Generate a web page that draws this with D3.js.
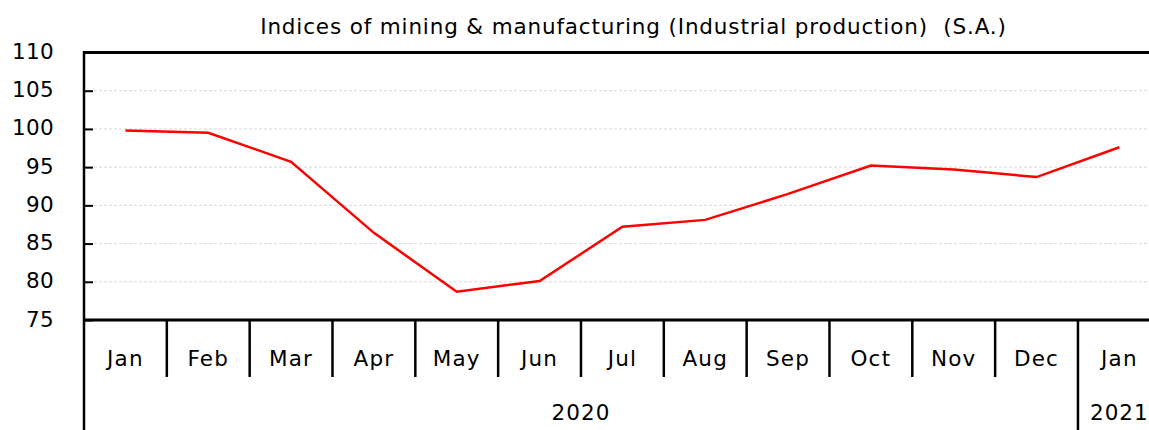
<!DOCTYPE html>
<html>
<head>
<meta charset="utf-8">
<script src="https://cdn.jsdelivr.net/npm/d3@7"></script>
<style>
  html, body { margin: 0; padding: 0; background: #fff; }
  svg { display: block; font-family: "DejaVu Sans", sans-serif; }
</style>
</head>
<body>
<svg id="chart" width="1149" height="430"></svg>
<script>
const title = "Indices of mining & manufacturing (Industrial production)\u00a0\u00a0(S.A.)";
const monthLabels = ["Jan","Feb","Mar","Apr","May","Jun","Jul","Aug","Sep","Oct","Nov","Dec","Jan"];
const monthYears = [2020,2020,2020,2020,2020,2020,2020,2020,2020,2020,2020,2020,2021];
const values = [99.8, 99.5, 95.7, 86.4, 78.7, 80.1, 87.2, 88.1, 91.5, 95.2, 94.7, 93.7, 97.6];
const yTicks = [75, 80, 85, 90, 95, 100, 105, 110];
const yearLabels = ["2020", "2021"];

const svg = d3.select("#chart");
const mLeft = 84, mTop = 52.5, mBottom = 320, bandW = 82.83;
const keys = monthLabels.map((m, i) => monthYears[i] + "-" + i);

const x = d3.scaleBand().domain(keys).range([mLeft, mLeft + bandW * keys.length]).paddingInner(0).paddingOuter(0);
const y = d3.scaleLinear().domain([75, 110]).range([mBottom, mTop]);

// gridlines
svg.append("g").selectAll("line").data(yTicks.filter(t => t > 75 && t < 110)).join("line")
  .attr("x1", mLeft).attr("x2", 1149)
  .attr("y1", d => y(d)).attr("y2", d => y(d))
  .attr("stroke", "#d9d9d9").attr("stroke-width", 1).attr("stroke-dasharray", "3,2");

// y axis
const yAxis = d3.axisLeft(y).tickValues(yTicks).tickSize(0).tickPadding(0);
const gy = svg.append("g").attr("transform", `translate(${mLeft},0)`).call(yAxis);
gy.select(".domain").remove();
gy.selectAll(".tick text")
  .attr("x", -30).attr("dy", null).attr("y", 6)
  .attr("font-size", 21.5).attr("font-family", "DejaVu Sans").attr("fill", "#000")
  .attr("letter-spacing", 0.3)
  .attr("text-anchor", "end");
gy.selectAll(".tick").append("line")
  .attr("x1", 0).attr("x2", 9).attr("y1", 0).attr("y2", 0)
  .attr("stroke", "#000").attr("stroke-width", 2);

// top border
svg.append("line").attr("x1", mLeft).attr("x2", 1149).attr("y1", mTop).attr("y2", mTop)
  .attr("stroke", "#000").attr("stroke-width", 3);
// left axis line
svg.append("line").attr("x1", mLeft).attr("x2", mLeft).attr("y1", mTop - 1.5).attr("y2", 430)
  .attr("stroke", "#000").attr("stroke-width", 2.5);
// bottom axis line
svg.append("line").attr("x1", mLeft).attr("x2", 1149).attr("y1", mBottom).attr("y2", mBottom)
  .attr("stroke", "#000").attr("stroke-width", 3);

// x axis month labels and separators
const xAxis = d3.axisBottom(x).tickSize(0).tickPadding(0).tickFormat((d, i) => monthLabels[i]);
const gx = svg.append("g").attr("transform", `translate(0,${mBottom})`).call(xAxis);
gx.select(".domain").remove();
gx.selectAll(".tick text").attr("y", 46).attr("dy", null)
  .attr("font-size", 21.5).attr("font-family", "DejaVu Sans").attr("fill", "#000")
  .attr("letter-spacing", 1.2);

const seps = keys.slice(1);
svg.append("g").selectAll("line").data(seps).join("line")
  .attr("x1", d => x(d)).attr("x2", d => x(d))
  .attr("y1", mBottom)
  .attr("y2", (d, i) => monthYears[i + 1] !== monthYears[i] ? 430 : 377)
  .attr("stroke", "#000").attr("stroke-width", 2.5);

// year labels
const yearGroups = yearLabels.map(yr => {
  const ks = keys.filter((k, i) => String(monthYears[i]) === yr);
  const x0 = x(ks[0]), x1 = x(ks[ks.length - 1]) + x.bandwidth();
  return { yr, cx: (x0 + x1) / 2 };
});
svg.append("g").selectAll("text").data(yearGroups).join("text")
  .attr("x", d => d.cx).attr("y", 420)
  .attr("text-anchor", "middle").attr("font-size", 21.5).attr("fill", "#000")
  .attr("letter-spacing", 1)
  .text(d => d.yr);

// line
const line = d3.line().x((d, i) => x(keys[i]) + x.bandwidth() / 2).y(d => y(d));
svg.append("path").datum(values).attr("d", line)
  .attr("fill", "none").attr("stroke", "#ff0000").attr("stroke-width", 2.5).attr("stroke-linejoin", "miter");

// title
svg.append("text").attr("x", 633.5).attr("y", 34).attr("text-anchor", "middle")
  .attr("font-size", 21.5).attr("fill", "#000").attr("letter-spacing", 0.85).text(title);
</script>
</body>
</html>
